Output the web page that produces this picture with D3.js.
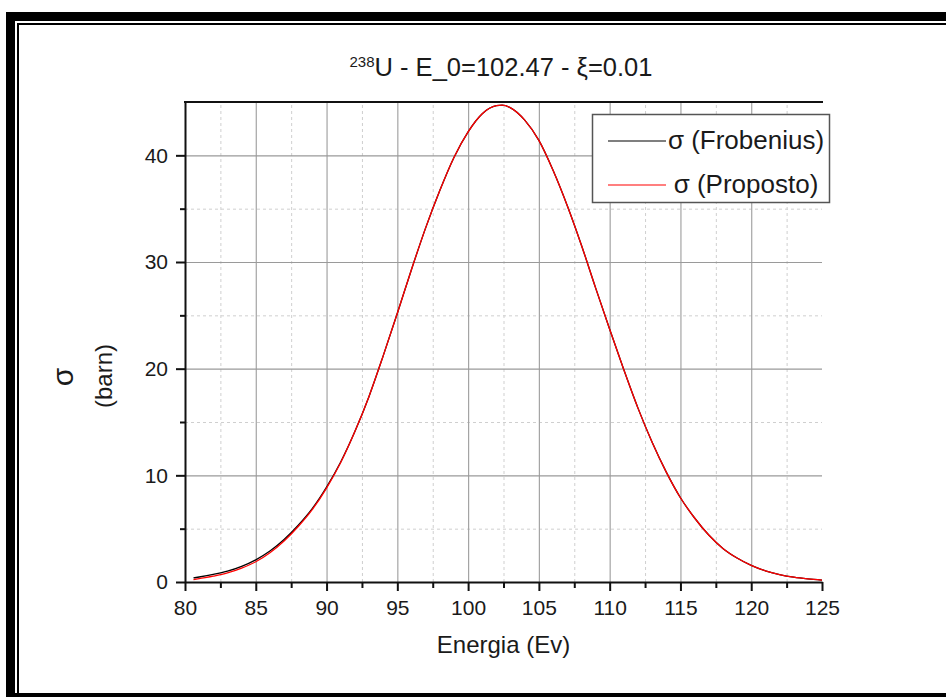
<!DOCTYPE html>
<html lang="en">
<head>
    <meta charset="UTF-8">
    <title>238U - Doppler</title>
    <style>
        body {
            margin: 0;
            background: #fff;
            font-family: "Liberation Sans", Arial, sans-serif;
        }
        svg text {
            fill: #1a1a1a;
        }
    </style>
</head>
<body>

<div id="chart"></div>

<script src="https://d3js.org/d3.v7.min.js"></script>
<script>
    // energy grid (eV) and the two cross sections
    const energia = [80.6, 81, 82, 83, 84, 85, 86, 87, 88, 89, 90, 91, 92, 93, 94, 95, 96, 97, 98, 99,
        100, 101, 102, 102.4, 103, 104, 105, 106, 107, 108, 109, 110, 111, 112, 113, 114, 115, 116, 117,
        118, 119, 120, 121, 122, 123, 124, 125];
    const sigmaProposto = [0.22, 0.32, 0.55, 0.85, 1.3, 1.9, 2.75, 3.85, 5.2, 6.8, 8.8, 11.2, 14.1, 17.4, 21.2, 25.2, 29.3, 33.2, 36.7, 39.8,
        42.2, 43.9, 44.65, 44.7, 44.45, 43.3, 41.4, 38.6, 35.3, 31.6, 27.6, 23.7, 19.9, 16.3, 13.1, 10.3, 7.9, 6.0, 4.4,
        3.15, 2.25, 1.56, 1.05, 0.7, 0.45, 0.29, 0.18];
    const sigmaFrobenius = [0.38, 0.47, 0.72, 1.02, 1.47, 2.08, 2.9, 3.98, 5.32, 6.9, 8.9, 11.25, 14.1, 17.4, 21.2, 25.2, 29.3, 33.2, 36.7, 39.8,
        42.2, 43.9, 44.65, 44.7, 44.45, 43.3, 41.4, 38.6, 35.3, 31.6, 27.6, 23.7, 19.9, 16.3, 13.1, 10.3, 7.9, 6.0, 4.4,
        3.15, 2.25, 1.56, 1.05, 0.7, 0.45, 0.29, 0.18];

    const xMajor = [80, 85, 90, 95, 100, 105, 110, 115, 120, 125];
    const xMinor = [82.5, 87.5, 92.5, 97.5, 102.5, 107.5, 112.5, 117.5, 122.5];
    const yMajor = [0, 10, 20, 30, 40];
    const yMinor = [5, 15, 25, 35];

    const legendNames = ["σ (Frobenius)", "σ (Proposto)"];
    const legendColors = ["#000000", "#ff0000"];

    const width = 946;
    const height = 697;
    const plot = { left: 185, right: 822, top: 102, bottom: 582 };

    const svg = d3.select("#chart")
        .append("svg")
        .attr("width", width)
        .attr("height", height);

    // double frame round the figure (cut off at right and bottom)
    const frame = svg.append("g").attr("fill", "#000");
    frame.append("rect").attr("x", 6).attr("y", 12).attr("width", 9).attr("height", 685);
    frame.append("rect").attr("x", 6).attr("y", 12).attr("width", 940).attr("height", 9);
    frame.append("rect").attr("x", 17).attr("y", 23).attr("width", 2).attr("height", 670);
    frame.append("rect").attr("x", 17).attr("y", 23).attr("width", 929).attr("height", 2);
    frame.append("rect").attr("x", 6).attr("y", 693).attr("width", 940).attr("height", 4);

    const x = d3.scaleLinear().domain([80, 125]).range([plot.left, plot.right]);
    const y = d3.scaleLinear().domain([0, 45]).range([plot.bottom, plot.top]);

    // minor grid (dashed)
    svg.append("g")
        .attr("transform", `translate(0,${plot.bottom})`)
        .call(d3.axisBottom(x).tickValues(xMinor).tickSize(-(plot.bottom - plot.top)).tickFormat("").tickSizeOuter(0))
        .call(g => g.select(".domain").remove())
        .call(g => g.selectAll("line").attr("stroke", "#cfcfcf").attr("stroke-dasharray", "3,3"));
    svg.append("g")
        .attr("transform", `translate(${plot.left},0)`)
        .call(d3.axisLeft(y).tickValues(yMinor).tickSize(-(plot.right - plot.left)).tickFormat("").tickSizeOuter(0))
        .call(g => g.select(".domain").remove())
        .call(g => g.selectAll("line").attr("stroke", "#cfcfcf").attr("stroke-dasharray", "3,3"));

    // major grid (solid)
    svg.append("g")
        .attr("transform", `translate(0,${plot.bottom})`)
        .call(d3.axisBottom(x).tickValues(xMajor.slice(1, -1)).tickSize(-(plot.bottom - plot.top)).tickFormat("").tickSizeOuter(0))
        .call(g => g.select(".domain").remove())
        .call(g => g.selectAll("line").attr("stroke", "#a4a4a4").attr("stroke-width", 1.2));
    svg.append("g")
        .attr("transform", `translate(${plot.left},0)`)
        .call(d3.axisLeft(y).tickValues(yMajor.slice(1)).tickSize(-(plot.right - plot.left)).tickFormat("").tickSizeOuter(0))
        .call(g => g.select(".domain").remove())
        .call(g => g.selectAll("line").attr("stroke", "#9a9a9a").attr("stroke-width", 1.2));

    // curves
    const line = d3.line()
        .x(d => x(d[0]))
        .y(d => y(d[1]))
        .curve(d3.curveMonotoneX);

    const series = [sigmaFrobenius, sigmaProposto];
    series.forEach((vals, i) => {
        svg.append("path")
            .datum(energia.map((e, j) => [e, vals[j]]))
            .attr("fill", "none")
            .attr("stroke", legendColors[i])
            .attr("stroke-width", 1.3)
            .attr("d", line);
    });

    // axes
    const axisColor = "#111";
    svg.append("g")
        .attr("transform", `translate(0,${plot.bottom})`)
        .call(d3.axisBottom(x).tickValues(xMinor).tickSize(6).tickFormat("").tickSizeOuter(0))
        .call(g => g.select(".domain").remove())
        .call(g => g.selectAll("line").attr("stroke", axisColor).attr("stroke-width", 2));
    svg.append("g")
        .attr("transform", `translate(${plot.left},0)`)
        .call(d3.axisLeft(y).tickValues(yMinor).tickSize(5).tickFormat("").tickSizeOuter(0))
        .call(g => g.select(".domain").remove())
        .call(g => g.selectAll("line").attr("stroke", axisColor).attr("stroke-width", 2));

    const xAxis = svg.append("g")
        .attr("transform", `translate(0,${plot.bottom})`)
        .call(d3.axisBottom(x).tickValues(xMajor).tickSize(9).tickPadding(9).tickSizeOuter(0));
    xAxis.select(".domain").attr("stroke", axisColor).attr("stroke-width", 2);
    xAxis.selectAll("line").attr("stroke", axisColor).attr("stroke-width", 2);
    xAxis.selectAll("text")
        .attr("font-size", 21)
        .attr("font-family", "Liberation Sans, Arial, sans-serif")
        .attr("fill", "#1a1a1a");

    const yAxis = svg.append("g")
        .attr("transform", `translate(${plot.left},0)`)
        .call(d3.axisLeft(y).tickValues(yMajor).tickSize(9).tickPadding(8).tickSizeOuter(0));
    yAxis.select(".domain").attr("stroke", axisColor).attr("stroke-width", 2);
    yAxis.selectAll("line").attr("stroke", axisColor).attr("stroke-width", 2);
    yAxis.selectAll("text")
        .attr("font-size", 21)
        .attr("font-family", "Liberation Sans, Arial, sans-serif")
        .attr("fill", "#1a1a1a");

    // top frame line of the plot
    svg.append("line")
        .attr("x1", plot.left - 1).attr("x2", plot.right + 1)
        .attr("y1", plot.top).attr("y2", plot.top)
        .attr("stroke", axisColor)
        .attr("stroke-width", 2);

    // title
    const title = svg.append("text")
        .attr("x", 501)
        .attr("y", 76)
        .attr("text-anchor", "middle")
        .attr("font-size", 25.5);
    title.append("tspan").attr("font-size", 15).attr("dy", -9).text("238");
    title.append("tspan").attr("dy", 9).text("U - E_0=102.47 - ξ=0.01");

    // axis titles
    svg.append("text")
        .attr("x", (plot.left + plot.right) / 2)
        .attr("y", 653)
        .attr("text-anchor", "middle")
        .attr("font-size", 24)
        .text("Energia (Ev)");

    svg.append("text")
        .attr("transform", "translate(73,377) rotate(-90)")
        .attr("text-anchor", "middle")
        .attr("font-size", 30)
        .text("σ");
    svg.append("text")
        .attr("transform", "translate(112,376) rotate(-90)")
        .attr("text-anchor", "middle")
        .attr("font-size", 24)
        .text("(barn)");

    // legend
    const legend = svg.append("g");
    legend.append("rect")
        .attr("x", 592.5).attr("y", 114.5)
        .attr("width", 237).attr("height", 88)
        .attr("fill", "#fff")
        .attr("stroke", "#555")
        .attr("stroke-width", 1.5);

    legendNames.forEach((name, i) => {
        const cy = 141 + i * 44;
        legend.append("line")
            .attr("x1", 608).attr("x2", 666)
            .attr("y1", cy).attr("y2", cy)
            .attr("stroke", legendColors[i])
            .attr("stroke-width", 1.2);
        legend.append("text")
            .attr("x", 746)
            .attr("y", cy + 8)
            .attr("text-anchor", "middle")
            .attr("font-size", 26)
            .text(name);
    });
</script>

</body>
</html>
